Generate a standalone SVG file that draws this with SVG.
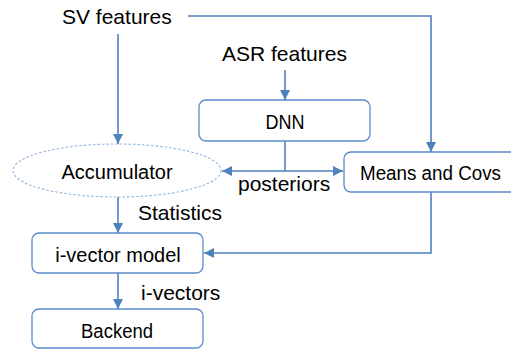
<svg xmlns="http://www.w3.org/2000/svg" width="511" height="349" viewBox="0 0 511 349">
<defs>
<marker id="ah" viewBox="0 0 10 10" refX="10" refY="5" markerWidth="10" markerHeight="10" markerUnits="userSpaceOnUse" orient="auto">
<path d="M0,0 L10,5 L0,10 z" fill="#4f81bd"/>
</marker>
<style>
.box{fill:#ffffff;stroke:#5a8ccb;stroke-width:1.3}
.ell{fill:#ffffff;stroke:#8fb3e0;stroke-width:1.1;stroke-dasharray:2.5 2}
.lbl{font-family:"Liberation Sans",Arial,sans-serif;font-size:20px;fill:#000;text-anchor:middle}
.free{font-family:"Liberation Sans",Arial,sans-serif;font-size:21px;fill:#000}
.ln{fill:none;stroke:#4f81bd;stroke-width:1.6}
</style>
</defs>
<rect width="511" height="349" fill="#ffffff"/>
<g id="connectors">
<path class="ln" d="M188,16 H431 V152" marker-end="url(#ah)"/>
<path class="ln" d="M118,34 V144" marker-end="url(#ah)"/>
<path class="ln" d="M285,70 V100" marker-end="url(#ah)"/>
<path class="ln" d="M285,141 V171"/>
<path class="ln" d="M285,171 H222" marker-end="url(#ah)"/>
<path class="ln" d="M285,171 H343" marker-end="url(#ah)"/>
<path class="ln" d="M118,197 V233" marker-end="url(#ah)"/>
<path class="ln" d="M431,192 V253 H204" marker-end="url(#ah)"/>
<path class="ln" d="M118,273 V309" marker-end="url(#ah)"/>
</g>
<g id="sv-features"><text class="free" x="62" y="24">SV features</text></g>
<g id="asr-features"><text class="free" x="222" y="61">ASR features</text></g>
<g id="dnn"><rect class="box" x="199" y="100" width="171" height="41" rx="7"/><text class="lbl" x="285" y="129" textLength="39" lengthAdjust="spacingAndGlyphs">DNN</text></g>
<g id="accumulator"><ellipse class="ell" cx="117" cy="170.5" rx="104" ry="26.5"/><text class="lbl" x="117" y="179">Accumulator</text></g>
<g id="means-covs"><rect class="box" x="344" y="152" width="175" height="40" rx="7"/><text class="lbl" x="430.5" y="180" textLength="141" lengthAdjust="spacingAndGlyphs">Means and Covs</text></g>
<g id="posteriors-label"><text class="free" x="238" y="191">posteriors</text></g>
<g id="statistics-label"><text class="free" x="138" y="220">Statistics</text></g>
<g id="ivector-model"><rect class="box" x="32" y="233" width="171" height="40" rx="7"/><text class="lbl" x="118" y="262">i-vector model</text></g>
<g id="ivectors-label"><text class="free" x="141" y="300">i-vectors</text></g>
<g id="backend"><rect class="box" x="32" y="309" width="171" height="39" rx="7"/><text class="lbl" x="117" y="338" textLength="72" lengthAdjust="spacingAndGlyphs">Backend</text></g>
</svg>
